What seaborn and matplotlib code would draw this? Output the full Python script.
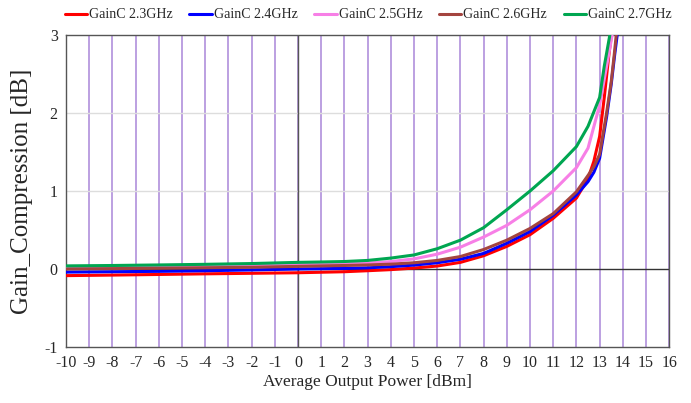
import pandas as pd
import matplotlib.pyplot as plt
import seaborn as sns

# values
labels = ['GainC 2.3GHz', 'GainC 2.4GHz', 'GainC 2.5GHz', 'GainC 2.6GHz', 'GainC 2.7GHz']
colors = ['#ff0000', '#0000ff', '#f77fe6', '#a4443f', '#00a651']

x_23 = [-10, -8, -6, -4, -2, 0, 2, 3, 4, 5, 6, 7, 8, 9, 10, 11, 12, 12.5, 12.75, 13, 13.2, 13.4, 13.55]
y_23 = [-0.085, -0.078, -0.07, -0.062, -0.055, -0.048, -0.035, -0.022, -0.008, 0.012, 0.038, 0.085, 0.17, 0.29, 0.44, 0.65, 0.91, 1.16, 1.38, 1.7, 2.2, 2.75, 3.1]

x_24 = [-10, -8, -6, -4, -2, 0, 2, 3, 4, 5, 6, 7, 8, 9, 10, 11, 12, 12.5, 12.75, 13, 13.3, 13.5, 13.65, 13.8]
y_24 = [-0.04, -0.035, -0.03, -0.022, -0.012, 0.0, 0.008, 0.015, 0.03, 0.05, 0.08, 0.125, 0.2, 0.33, 0.48, 0.69, 0.95, 1.12, 1.24, 1.42, 1.95, 2.37, 2.75, 3.1]

x_25 = [-10, -6, -2, 0, 2, 3, 4, 5, 6, 7, 8, 9, 10, 11, 12, 12.5, 13, 13.3, 13.45, 13.6]
y_25 = [0.02, 0.028, 0.045, 0.056, 0.066, 0.077, 0.095, 0.13, 0.19, 0.28, 0.41, 0.56, 0.76, 1.0, 1.3, 1.55, 2.1, 2.6, 2.85, 3.1]

x_26 = [-10, -6, -2, 0, 2, 3, 4, 5, 6, 7, 8, 9, 10, 11, 12, 12.5, 12.75, 13, 13.3, 13.5, 13.63, 13.75]
y_26 = [0.0, 0.01, 0.022, 0.034, 0.045, 0.052, 0.062, 0.08, 0.11, 0.16, 0.25, 0.37, 0.52, 0.71, 0.99, 1.2, 1.31, 1.47, 2.0, 2.4, 2.75, 3.1]

x_27 = [-10, -8, -6, -4, -2, 0, 1, 2, 3, 4, 5, 6, 7, 8, 9, 10, 11, 12, 12.5, 13, 13.2, 13.35, 13.5]
y_27 = [0.04, 0.045, 0.052, 0.06, 0.07, 0.085, 0.09, 0.096, 0.11, 0.14, 0.18, 0.26, 0.37, 0.53, 0.76, 1.0, 1.26, 1.57, 1.83, 2.2, 2.6, 2.85, 3.1]

series = [(x_23, y_23), (x_24, y_24), (x_25, y_25), (x_26, y_26), (x_27, y_27)]
rows = []
for lab, (xs, ys) in zip(labels, series):
    for xv, yv in zip(xs, ys):
        rows.append({'power': xv, 'gainc': yv, 'series': lab})
df = pd.DataFrame(rows)

sns.set_style('white')
plt.rcParams['font.family'] = ['Liberation Serif', 'DejaVu Serif']
plt.rcParams['axes.unicode_minus'] = False

fig = plt.figure(figsize=(6.91, 4.03), dpi=100)
ax = fig.add_axes([0.0955, 0.139, 0.873, 0.774])

# grid lines
for xv in range(-10, 17):
    ax.axvline(xv, color='#a57fd6', lw=1.3, alpha=0.8, zorder=0)
for yv in [1, 2]:
    ax.axhline(yv, color='#dddddd', lw=1.0, zorder=0)
ax.axhline(0, color='#333333', lw=1.0, zorder=1)
ax.axvline(0, color='#555555', lw=1.0, zorder=1)

sns.lineplot(data=df, x='power', y='gainc', hue='series', palette=colors,
             sort=False, estimator=None, lw=2.2, ax=ax, zorder=3, legend=True)

ax.set_xlim(-10, 16)
ax.set_ylim(-1, 3)
ax.set_xticks(range(-10, 17))
ax.set_yticks([-1, 0, 1, 2, 3])
ax.tick_params(axis='both', labelsize=11.5, length=0, pad=6)
for s in ax.spines.values():
    s.set_color('#555555')
    s.set_linewidth(1.0)

ax.set_xlabel('Average Output Power [dBm]', fontsize=12.5, labelpad=2)
ax.set_ylabel('Gain_Compression [dB]', fontsize=18, labelpad=8)

handles, labs = ax.get_legend_handles_labels()
ax.get_legend().remove()
fig.legend(handles, labs, loc='center', bbox_to_anchor=(0.533, 0.963), ncol=5,
           frameon=False, fontsize=10, handlelength=1.6, handletextpad=0.15,
           columnspacing=1.2, borderaxespad=0)

fig.savefig('out.png', dpi=100)
